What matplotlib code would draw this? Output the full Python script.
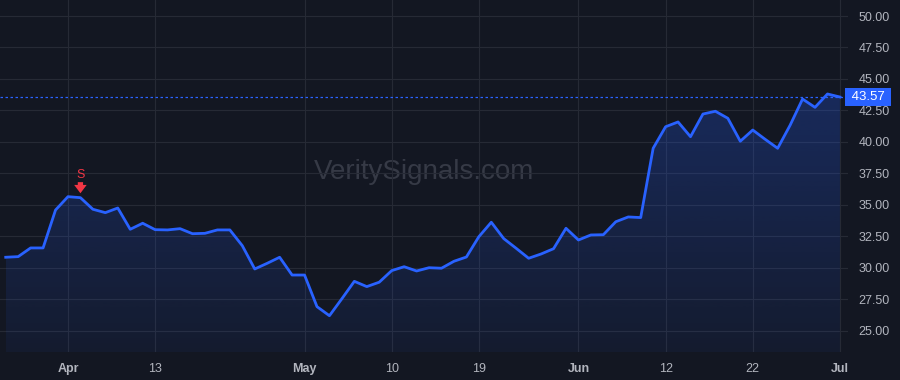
"""
Área de precio estilo TradingView (tema oscuro), cierre diario mar-jul 2023.
"""
import matplotlib

matplotlib.use("Agg")
import matplotlib.pyplot as plt
import matplotlib.transforms as mtransforms
import numpy as np
import pandas as pd
from matplotlib.patches import Polygon

plt.rcParams["font.family"] = ["Liberation Sans", "DejaVu Sans"]

# ---- datos ---------------------------------------------------------------
holidays = ["2023-04-07", "2023-05-29", "2023-06-19"]
dates = pd.bdate_range("2023-03-27", "2023-07-03")
dates = dates[~dates.isin(pd.to_datetime(holidays))]

close = [
    30.85, 30.90, 31.59, 31.59, 34.60, 35.66, 35.58, 34.66, 34.39, 34.76,
    33.07, 33.55, 33.04, 33.02, 33.12, 32.72, 32.75, 33.02, 33.02, 31.77,
    29.92, 30.37, 30.85, 29.44, 29.44, 26.93, 26.21, 27.56, 28.94, 28.52,
    28.87, 29.79, 30.10, 29.76, 30.02, 29.98, 30.53, 30.87, 32.48, 33.63,
    32.33, 31.56, 30.77, 31.11, 31.53, 33.15, 32.22, 32.62, 32.64, 33.67,
    34.05, 34.00, 39.50, 41.21, 41.59, 40.42, 42.22, 42.44, 41.88, 40.06,
    40.95, 40.21, 39.50, 41.33, 43.41, 42.75, 43.81, 43.57,
]
last_price = 43.57

tick_dates = ["2023-04-03", "2023-04-13", "2023-05-01", "2023-05-10",
              "2023-05-19", "2023-06-01", "2023-06-12", "2023-06-22",
              "2023-07-03"]
tick_labels = ["Apr", "13", "May", "10", "19", "Jun", "12", "22", "Jul"]
month_labels = {"Apr", "May", "Jun", "Jul"}

y_ticks = [25.0, 27.5, 30.0, 32.5, 35.0, 37.5, 40.0, 42.5, 45.0, 47.5, 50.0]

signal_date = "2023-04-04"
signal_text = "S"

# ---- colores -------------------------------------------------------------
_BG = "#131722"
_GRID = "#262a35"
_LINE = "#2962ff"
_TEXT = "#b2b5be"
_RED = "#f23645"
_WATERMARK = "#363a46"

x = np.arange(len(dates))
y = np.array(close)

fig = plt.figure(figsize=(9, 3.8), dpi=100, facecolor=_BG)
ax = fig.add_axes([0, 28 / 380, 848 / 900, 352 / 380], facecolor=_BG)

ymin, ymax = 23.33, 51.27
ax.set_xlim(-0.46, 67.65)
ax.set_ylim(ymin, ymax)

# relleno con degradado recortado bajo la línea
grad = np.linspace(0.06, 0.26, 256).reshape(-1, 1)
rgba = np.zeros((256, 1, 4))
rgba[..., 0] = 41 / 255
rgba[..., 1] = 98 / 255
rgba[..., 2] = 1.0
rgba[..., 3] = grad
im = ax.imshow(rgba, extent=(x[0], x[-1], ymin, y.max()), origin="lower",
               aspect="auto", zorder=1, interpolation="bilinear")
poly = Polygon(np.column_stack([np.r_[x[0], x, x[-1]], np.r_[ymin, y, ymin]]),
               closed=True, transform=ax.transData)
im.set_clip_path(poly)

ax.plot(x, y, color=_LINE, linewidth=2, zorder=3, solid_joinstyle="round")

# línea del último precio
ax.axhline(last_price, color=_LINE, linewidth=0.9, linestyle=(0, (2, 2)), zorder=2)
trans = mtransforms.blended_transform_factory(ax.transAxes, ax.transData)
ax.text(1.0, last_price, f" {last_price:.2f} ", transform=trans, ha="left", va="center",
        color="white", fontsize=9.5, clip_on=False, zorder=5,
        bbox=dict(boxstyle="square,pad=0.22", facecolor=_LINE, edgecolor="none"))

# señal de venta
si = int(np.where(dates == pd.Timestamp(signal_date))[0][0])
ax.annotate("", xy=(x[si], y[si] + 0.35), xytext=(0, 8), textcoords="offset points",
            arrowprops=dict(arrowstyle="simple,head_width=0.9,head_length=0.6,tail_width=0.38",
                            color=_RED, lw=0, shrinkA=0, shrinkB=0), zorder=5)
ax.annotate(signal_text, xy=(x[si], y[si] + 0.35), xytext=(0, 13), textcoords="offset points",
            ha="center", va="center", color=_RED, fontsize=9, zorder=5)

# marca de agua
ax.text(424 / 900, 1 - 172 / 380, "VeritySignals.com", transform=fig.transFigure,
        ha="center", va="center", fontsize=20, color=_WATERMARK, zorder=0)

# ejes
tick_pos = [int(np.where(dates == pd.Timestamp(d))[0][0]) for d in tick_dates]
ax.set_xticks(tick_pos)
ax.set_xticklabels(tick_labels)
for lbl in ax.get_xticklabels():
    if lbl.get_text() in month_labels:
        lbl.set_fontweight("bold")
ax.set_yticks(y_ticks)
ax.set_yticklabels([f"{v:.2f}" for v in y_ticks])
ax.yaxis.tick_right()
ax.tick_params(axis="y", length=0, pad=7.5, labelsize=9, colors=_TEXT)
ax.tick_params(axis="x", length=0, pad=8, labelsize=9, colors=_TEXT)
ax.grid(color=_GRID, linewidth=0.8, zorder=0)
ax.set_axisbelow(True)
for spine in ax.spines.values():
    spine.set_visible(False)

fig.savefig("out.png", dpi=100, facecolor=_BG)
